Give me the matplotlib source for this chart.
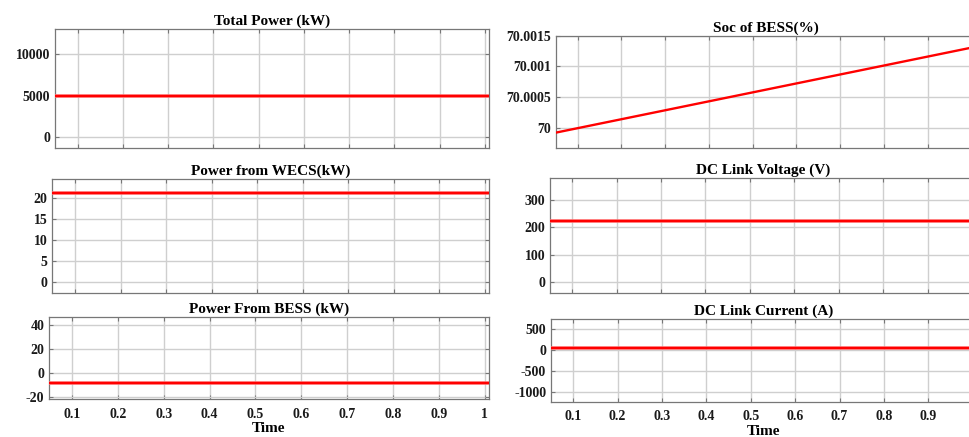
import matplotlib
matplotlib.use("Agg")
import matplotlib.pyplot as plt
import matplotlib.patheffects as pe

# ---------------- data ----------------
time_s = [0.05, 1.01]
total_power_kw = [4980, 4980]
wecs_power_kw = [21.2, 21.2]
bess_power_kw = [-8.3, -8.3]
soc_pct = [69.99992, 70.00132]
dc_voltage_v = [222, 222]
dc_current_a = [50, 50]

x_ticks = [0.1, 0.2, 0.3, 0.4, 0.5, 0.6, 0.7, 0.8, 0.9, 1.0]
x_tick_labels = ["0.1", "0.2", "0.3", "0.4", "0.5", "0.6", "0.7", "0.8", "0.9", "1"]

titles = ["Total Power (kW)", "Power from WECS(kW)", "Power From BESS (kW)",
          "Soc of BESS(%)", "DC Link Voltage (V)", "DC Link Current (A)"]

total_yticks = [0, 5000, 10000]
wecs_yticks = [0, 5, 10, 15, 20]
bess_yticks = [-20, 0, 20, 40]
soc_yticks = [70, 70.0005, 70.001, 70.0015]
soc_ytick_labels = ["70", "70.0005", "70.001", "70.0015"]
volt_yticks = [0, 100, 200, 300]
curr_yticks = [-1000, -500, 0, 500]

# ---------------- style ----------------
plt.rcParams['font.family'] = ['Liberation Serif', 'DejaVu Serif']
plt.rcParams['font.weight'] = 'bold'
plt.rcParams['axes.unicode_minus'] = False

W, H = 970, 437
fig = plt.figure(figsize=(W / 100, H / 100), dpi=100)


def make_axes(left_px, right_px, top_px, bottom_px):
    return fig.add_axes([left_px / W, 1 - bottom_px / H,
                         (right_px - left_px) / W, (bottom_px - top_px) / H])


panels = [
    ((55, 489, 29, 148), total_power_kw, (-1300, 13000), total_yticks, None, titles[0], False, 'ripple'),
    ((52.5, 489, 179, 293), wecs_power_kw, (-2.6, 24.6), wecs_yticks, None, titles[1], False, 'ripple'),
    ((49, 489, 317.3, 399.3), bess_power_kw, (-21.7, 46.4), bess_yticks, None, titles[2], True, 'ripple'),
    ((555.7, 975.4, 35.7, 148), soc_pct, (69.99967, 70.0015), soc_yticks, soc_ytick_labels, titles[3], False, 'plain'),
    ((550, 976, 178.3, 292.7), dc_voltage_v, (-40, 380), volt_yticks, None, titles[4], False, 'ripple'),
    ((551, 976.7, 319.3, 402), dc_current_a, (-1248, 740), curr_yticks, None, titles[5], True, 'ripple'),
]

for (l, r, t, b), ydata, ylim, yticks, ylabels, title, is_bottom, kind in panels:
    ax = make_axes(l, r, t, b)
    if kind == 'ripple':
        ax.plot(time_s, ydata, color='#ff0000', lw=1.5, solid_capstyle='butt',
                path_effects=[pe.Stroke(linewidth=2.6, foreground='#ff6a6a'), pe.Normal()],
                zorder=3)
    else:
        ax.plot(time_s, ydata, color='#ff0000', lw=1.7, zorder=3)
    ax.set_xlim(0.05, 1.009)
    ax.set_ylim(*ylim)
    ax.set_xticks(x_ticks)
    ax.set_yticks(yticks)
    if ylabels is not None:
        ax.set_yticklabels(ylabels)
    if is_bottom:
        ax.set_xticklabels(x_tick_labels)
        ax.set_xlabel("Time", fontsize=11, fontweight='bold', labelpad=1)
    else:
        ax.set_xticklabels([])
    ax.set_title(title, fontsize=11, fontweight='bold', pad=3)
    ax.grid(True, color='#cfcfcf', lw=1.0, zorder=0)
    ax.set_axisbelow(True)
    for s in ax.spines.values():
        s.set_color('#777777')
        s.set_linewidth(0.9)
    ax.tick_params(axis='both', direction='in', length=3, width=0.8, color='#777777',
                   labelsize=10, top=True, right=True)
    ax.tick_params(axis='x', pad=6)
    ax.tick_params(axis='y', pad=3.5)
    for lab in ax.get_xticklabels() + ax.get_yticklabels():
        lab.set_fontweight('bold')
        lab.set_color('#1a1a1a')

fig.savefig("out.png", dpi=100, facecolor='white')
